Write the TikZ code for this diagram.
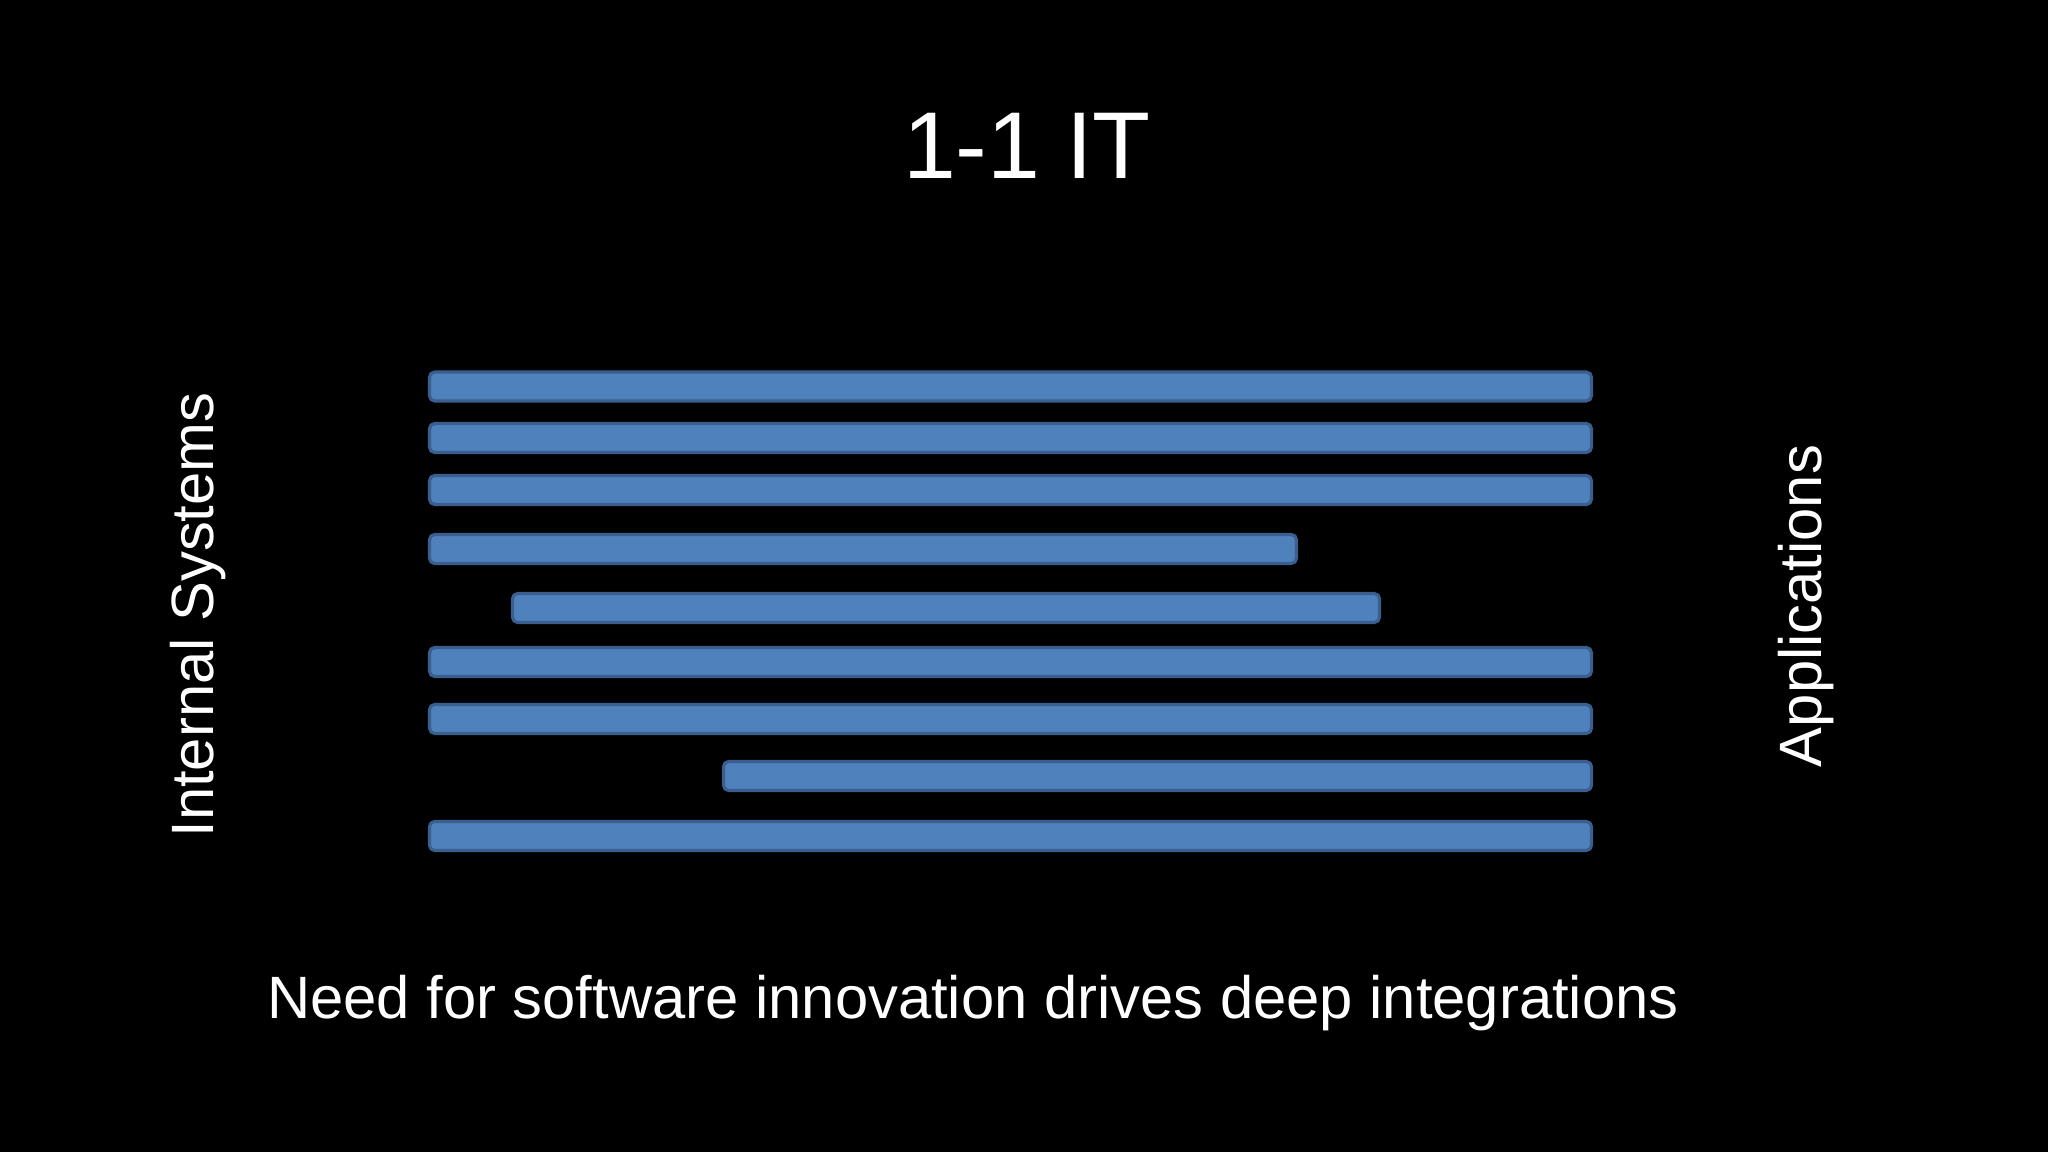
\documentclass[tikz,border=0pt]{standalone}
\usepackage{fontspec}
\setmainfont{Liberation Sans}
\definecolor{barfill}{HTML}{4F81BD}
\definecolor{barline}{HTML}{3A5F8E}

\begin{document}
\begin{tikzpicture}[bar/.style={draw=barline,fill=barfill,rounded corners=1.5pt,
                    line width=0.9pt,minimum height=0.29cm,inner sep=0pt},
                    label text/.style={text=white,font=\fontsize{17}{20}\selectfont}]

  \fill[black] (0,0) rectangle (20.48,11.52);

  \node[text=white,font=\fontsize{27}{32}\selectfont,anchor=base] (title) at (10.27,9.73) {1-1 IT};

  \foreach \l/\r/\y [count=\i] in {4.28/15.93/7.655, 4.28/15.93/7.14, 4.28/15.93/6.62,
                                    4.28/12.98/6.03, 5.11/13.81/5.44, 4.28/15.93/4.90,
                                    4.28/15.93/4.33, 7.22/15.93/3.76, 4.28/15.93/3.16}
    \node[bar,minimum width={(\r-\l-0.03)*1cm}] (bar\i) at ({(\l+\r)/2},\y) {};

  \node[label text,rotate=90,anchor=base] (internal) at (2.13,5.37) {Internal Systems};
  \node[label text,rotate=90,anchor=base] (apps) at (18.21,5.46) {Applications};
  \node[label text,anchor=base] (need) at (9.73,1.33) {Need for software innovation drives deep integrations};
\end{tikzpicture}
\end{document}
